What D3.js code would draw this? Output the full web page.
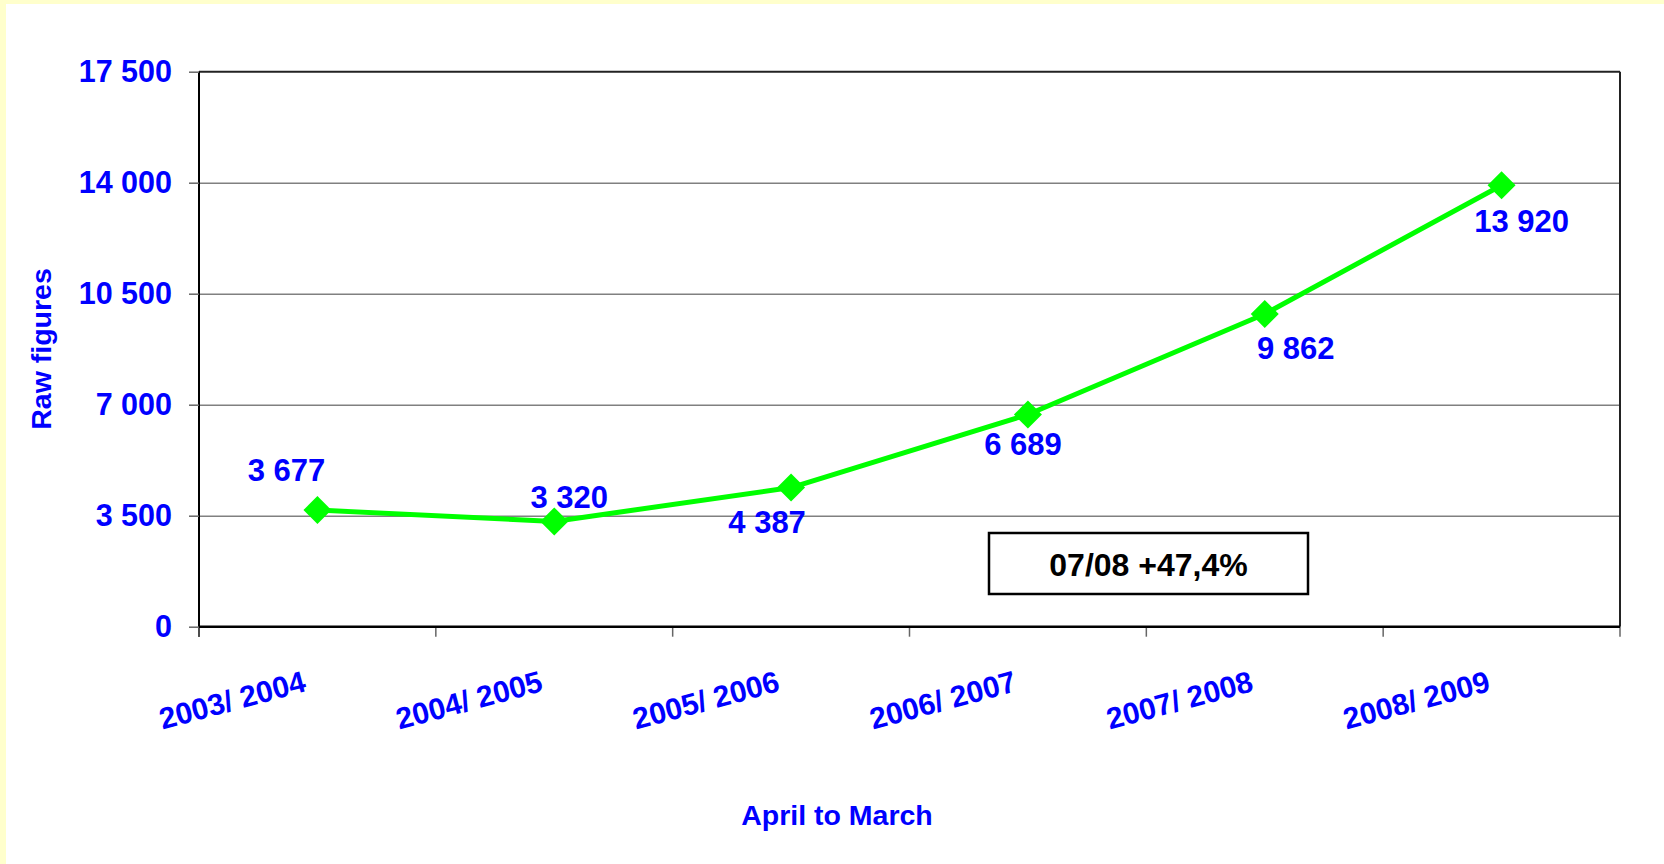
<!DOCTYPE html>
<html>
<head>
<meta charset="utf-8">
<script src="https://cdn.jsdelivr.net/npm/d3@7"></script>
<style>
  html, body { margin: 0; padding: 0; background: #fff; }
  svg { display: block; font-family: "Liberation Sans", Arial, sans-serif; font-weight: bold; }
</style>
</head>
<body>
<svg id="chart"></svg>
<script>
(() => {
  const seasons = ['2003/ 2004', '2004/ 2005', '2005/ 2006', '2006/ 2007', '2007/ 2008', '2008/ 2009'];
  const rawFigures = [3677, 3320, 4387, 6689, 9862, 13920];
  const yTicks = [0, 3500, 7000, 10500, 14000, 17500];
  const growthNote = '07/08 +47,4%';
  const xTitle = 'April to March';
  const yTitle = 'Raw figures';

  const width = 1664;
  const height = 864;
  const plot = { left: 199, right: 1620, top: 71.7, bottom: 626.7 };
  const blue = '#0000ff';

  const fmt = d3.formatLocale({ thousands: ' ', grouping: [3], decimal: ',', currency: ['', ''] }).format(',d');

  const svg = d3.select('svg#chart')
    .attr('width', width)
    .attr('height', height);

  // pale yellow slide frame
  svg.append('rect').attr('width', width).attr('height', height).attr('fill', '#ffffcc');
  svg.append('rect').attr('x', 6).attr('y', 4).attr('width', width - 6).attr('height', height - 4).attr('fill', '#fff');

  const xScale = d3.scaleBand()
    .domain(seasons)
    .range([plot.left, plot.right])
    .padding(0);
  const cx = d => xScale(d) + xScale.bandwidth() / 2;

  const yScale = d3.scaleLinear()
    .domain([0, 17500])
    .range([plot.bottom, plot.top]);

  // gridlines
  svg.append('g')
    .attr('transform', `translate(${plot.left},0)`)
    .call(d3.axisLeft(yScale).tickValues(yTicks.slice(1, -1)).tickSize(-(plot.right - plot.left)).tickFormat(''))
    .call(g => g.select('.domain').remove())
    .call(g => g.selectAll('line').attr('stroke', '#808080').attr('stroke-width', 1.5));

  // top and right border
  svg.append('line')
    .attr('x1', plot.left).attr('x2', plot.right)
    .attr('y1', yScale(17500)).attr('y2', yScale(17500))
    .attr('stroke', '#222').attr('stroke-width', 2);
  svg.append('line')
    .attr('x1', plot.right).attr('x2', plot.right)
    .attr('y1', plot.top).attr('y2', plot.bottom)
    .attr('stroke', '#222').attr('stroke-width', 2);

  // y axis
  svg.append('g')
    .attr('transform', `translate(${plot.left},0)`)
    .call(d3.axisLeft(yScale).tickValues(yTicks).tickSize(10).tickPadding(17).tickFormat(fmt))
    .call(g => g.select('.domain').attr('d', `M0,${plot.top}V${plot.bottom + 10}`).attr('stroke', '#000').attr('stroke-width', 2))
    .call(g => g.selectAll('.tick line').attr('stroke', '#666').attr('stroke-width', 1.5))
    .call(g => g.selectAll('.tick text')
      .attr('fill', blue)
      .style('font-size', '30.5px')
      .style('font-family', '"Liberation Sans", Arial, sans-serif')
      .style('font-weight', 'bold'));

  // x axis labels
  svg.append('g')
    .attr('transform', `translate(0,${plot.bottom})`)
    .call(d3.axisBottom(xScale).tickSize(0))
    .call(g => g.select('.domain').remove())
    .call(g => g.selectAll('.tick text')
      .attr('y', 0)
      .attr('dy', 0)
      .attr('text-anchor', 'end')
      .attr('transform', 'translate(-10,64) rotate(-15)')
      .attr('fill', blue)
      .style('font-size', '30px')
      .style('font-family', '"Liberation Sans", Arial, sans-serif')
      .style('font-weight', 'bold'));

  // x axis line and boundary ticks
  const bounds = seasons.map(d => xScale(d)).concat([plot.right]);
  svg.selectAll('line.xtick')
    .data(bounds)
    .enter()
    .append('line')
    .attr('class', 'xtick')
    .attr('x1', d => d).attr('x2', d => d)
    .attr('y1', plot.bottom).attr('y2', plot.bottom + 10)
    .attr('stroke', '#666').attr('stroke-width', 1.5);
  svg.append('line')
    .attr('x1', plot.left).attr('x2', plot.right)
    .attr('y1', plot.bottom).attr('y2', plot.bottom)
    .attr('stroke', '#000').attr('stroke-width', 2.5);

  // axis titles
  svg.append('text')
    .attr('x', 837).attr('y', 825)
    .attr('text-anchor', 'middle')
    .attr('fill', blue)
    .style('font-size', '28.5px')
    .text(xTitle);
  svg.append('text')
    .attr('transform', 'translate(51,349) rotate(-90)')
    .attr('text-anchor', 'middle')
    .attr('fill', blue)
    .style('font-size', '28.5px')
    .text(yTitle);

  // series
  const line = d3.line()
    .x((d, i) => cx(seasons[i]))
    .y(d => yScale(d));
  svg.append('path')
    .datum(rawFigures)
    .attr('d', line)
    .attr('fill', 'none')
    .attr('stroke', '#00ff00')
    .attr('stroke-width', 5)
    .attr('stroke-linejoin', 'round');

  svg.selectAll('path.marker')
    .data(rawFigures)
    .enter()
    .append('path')
    .attr('class', 'marker')
    .attr('d', 'M0,-14L14,0L0,14L-14,0Z')
    .attr('transform', (d, i) => `translate(${cx(seasons[i])},${yScale(d)})`)
    .attr('fill', '#00ff00');

  // data labels were dragged by hand in the original, so each has its own offset
  const labelShift = [[-31, -29], [15, -13], [-24, 45], [-5, 40], [31, 45], [20, 47]];
  svg.selectAll('text.value')
    .data(rawFigures)
    .enter()
    .append('text')
    .attr('class', 'value')
    .attr('x', (d, i) => cx(seasons[i]) + labelShift[i][0])
    .attr('y', (d, i) => yScale(d) + labelShift[i][1])
    .attr('text-anchor', 'middle')
    .attr('fill', blue)
    .style('font-size', '31px')
    .text(d => fmt(d));

  // growth note
  svg.append('rect')
    .attr('x', 989).attr('y', 533)
    .attr('width', 319).attr('height', 61)
    .attr('fill', '#fff')
    .attr('stroke', '#000')
    .attr('stroke-width', 2.5);
  svg.append('text')
    .attr('x', 1148.5).attr('y', 576)
    .attr('text-anchor', 'middle')
    .attr('fill', '#000')
    .style('font-size', '32px')
    .text(growthNote);
})();
</script>
</body>
</html>
